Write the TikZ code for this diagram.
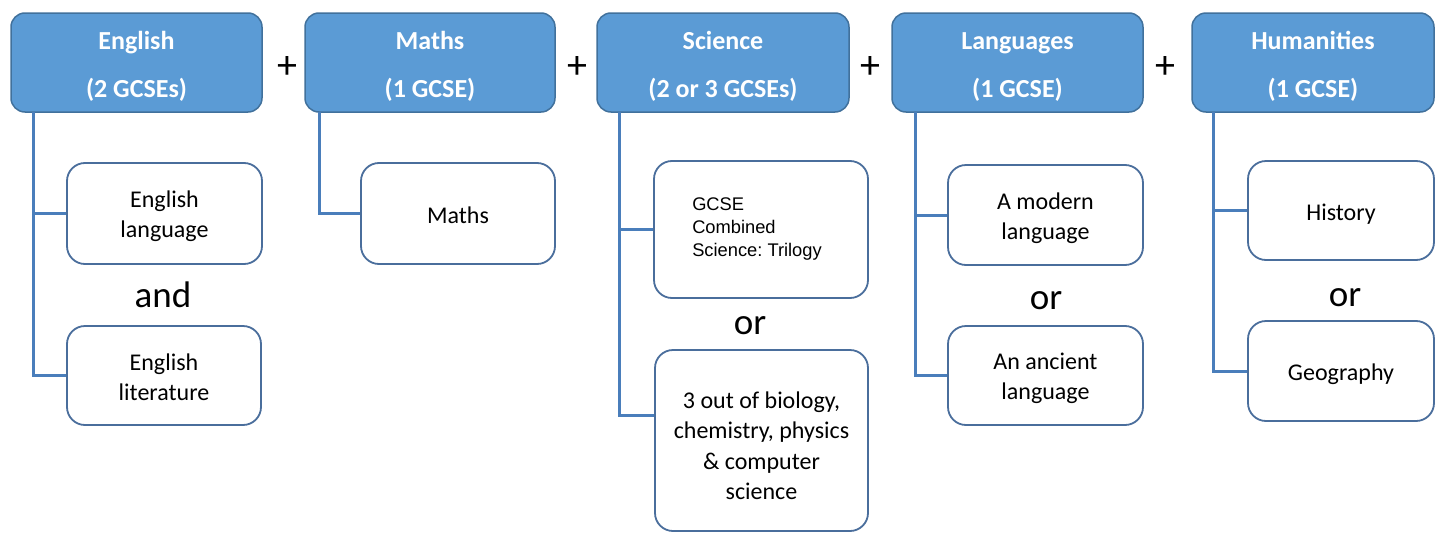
\documentclass[tikz,border=0pt]{standalone}
\usepackage{fontspec}
\setmainfont{Carlito}
\newfontfamily\arialf{Liberation Sans}
\frenchspacing
\definecolor{hfill}{HTML}{5B9BD5}
\definecolor{hdraw}{HTML}{41719C}
\definecolor{conncol}{HTML}{4A7EBB}
\definecolor{cdraw}{HTML}{4A6E9C}
% asymmetric struts: lower the text of a box by #2 pt
\newcommand\tS[2]{\rule{0pt}{\dimexpr#1pt+#2pt\relax}}
\newcommand\bS[2]{\rule[\dimexpr-#1pt+#2pt\relax]{0pt}{\dimexpr#1pt-#2pt\relax}}
\begin{document}
\begin{tikzpicture}[x=1pt,y=-1pt,
  header/.style={draw=hdraw, line width=1.5pt, fill=hfill, rounded corners=14pt,
    text=white, font=\bfseries\fontsize{26}{48}\selectfont, align=center,
    minimum height=99pt, inner sep=0pt},
  child/.style={draw=cdraw, line width=1.8pt, fill=white, rounded corners=18pt,
    font=\fontsize{24}{30}\selectfont, align=center, inner sep=0pt},
  conn/.style={draw=conncol, line width=3pt},
  plus/.style={font=\fontsize{40}{40}\selectfont, inner sep=0pt},
  word/.style={font=\fontsize{37}{37}\selectfont, inner sep=0pt}]
\useasboundingbox[fill=white] (0,0) rectangle (1436,533);

% headers
\node[header, minimum width=251pt] (eng) at (136.5,62.5) {\tS{22}{3}English\\(2 GCSEs)\bS{7}{3}};
\node[header, minimum width=250pt] (mat) at (430,62.5) {\tS{22}{3}Maths\\(1 GCSE)\bS{7}{3}};
\node[header, minimum width=252pt] (sci) at (723,62.5) {\tS{22}{3}Science\\(2 or 3 GCSEs)\bS{7}{3}};
\node[header, minimum width=251pt] (lan) at (1017.5,62.5) {\tS{22}{3}Languages\\(1 GCSE)\bS{7}{3}};
\node[header, minimum width=242pt] (hum) at (1313,62.5) {\tS{22}{3}Humanities\\(1 GCSE)\bS{7}{3}};

% plus signs
\node[plus] (p1) at (287.5,68) {+};
\node[plus] (p2) at (577,68) {+};
\node[plus] (p3) at (870,68) {+};
\node[plus] (p4) at (1165,68) {+};

% children
\node[child, minimum width=195pt, minimum height=101pt] (englang) at (164.5,213.5) {\tS{20}{3}English\\language\bS{7}{3}};
\node[child, minimum width=194pt, minimum height=99pt] (englit) at (164,375.5) {\tS{20}{3}English\\literature\bS{7}{3}};
\node[child, minimum width=194pt, minimum height=101pt] (matc) at (458,213.5) {\tS{20}{3}Maths\bS{7}{3}};
\node[child, minimum width=214pt, minimum height=137pt, align=left,
  font=\arialf\fontsize{18.3}{23}\selectfont] (sci1) at (761,229.5) {GCSE\\Combined\\Science: Trilogy\hspace*{8pt}};
\node[child, minimum width=213pt, minimum height=181pt, font=\fontsize{24}{30.3}\selectfont] (sci2) at (761.5,440.5)
  {\tS{20}{7}3 out of biology,\\chemistry, physics\\\& computer\\science\bS{7}{7}};
\node[child, minimum width=195pt, minimum height=100pt] (lan1) at (1045.5,215) {\tS{20}{4}A modern\\language\bS{7}{4}};
\node[child, minimum width=195pt, minimum height=99pt] (lan2) at (1045.5,375.5) {\tS{20}{2.5}An ancient\\language\bS{7}{2.5}};
\node[child, minimum width=186pt, minimum height=99pt] (hist) at (1341,210.5) {\tS{20}{3.5}History\bS{7}{3.5}};
\node[child, minimum width=186pt, minimum height=100pt] (geo) at (1341,371) {\tS{20}{2.5}Geography\bS{7}{2.5}};

% words between
\node[word] (and) at (163,295) {and};
\node[word] (or1) at (750,326) {or};
\node[word] (or2) at (1046,301) {or};
\node[word] (or3) at (1345,298) {or};

% connectors
\coordinate (engtop) at (33,112);
\coordinate (mattop) at (319,112);
\coordinate (scitop) at (619,112);
\coordinate (lantop) at (915,112);
\coordinate (humtop) at (1213,112);
\coordinate (s2) at (0,415);
\draw[conn] (engtop) |- (englang.west);
\draw[conn] (engtop) |- (englit.west);
\draw[conn] (mattop) |- (matc.west);
\draw[conn] (scitop) |- (sci1.west);
\draw[conn] (scitop) |- (sci2.west |- s2);
\draw[conn] (lantop) |- (lan1.west);
\draw[conn] (lantop) |- (lan2.west);
\draw[conn] (humtop) |- (hist.west);
\draw[conn] (humtop) |- (geo.west);
\end{tikzpicture}
\end{document}
